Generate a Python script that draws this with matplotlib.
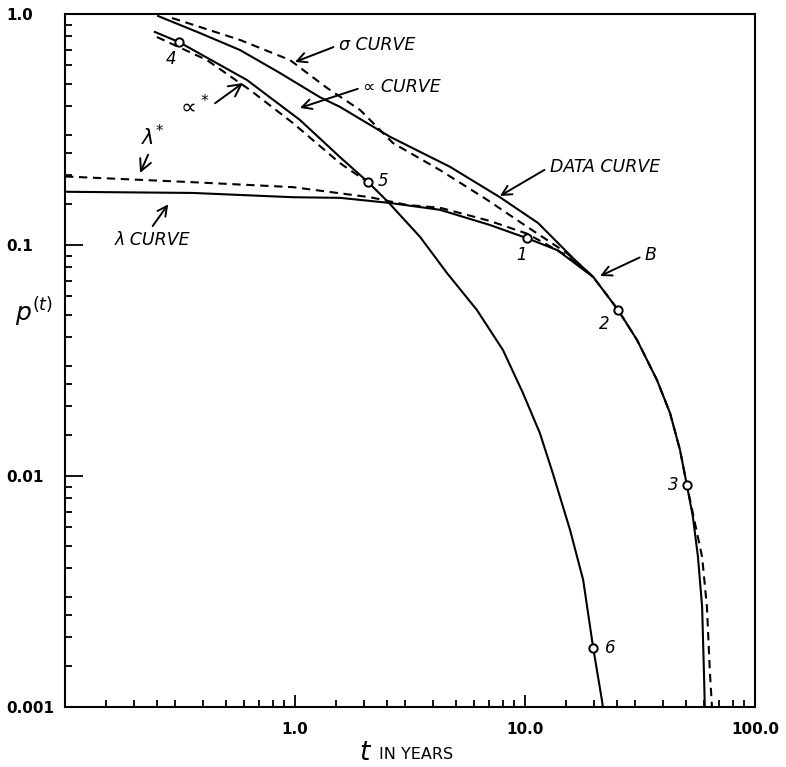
import matplotlib.pyplot as plt
from matplotlib.ticker import LogLocator, FixedLocator, FixedFormatter, NullFormatter

# curves (t in years, p(t))
data_t = [0.254, 0.386, 0.577, 0.861, 1.28, 1.57, 2.59, 3.50, 4.72, 7.78, 11.4,
          16.5, 19.8, 25.4, 30.7, 37.5, 42.7, 47.2, 50.6, 53.7, 56.5, 58.9,
          60.0, 60.5]
data_p = [0.98, 0.827, 0.698, 0.555, 0.437, 0.396, 0.294, 0.253, 0.218, 0.161,
          0.1245, 0.086, 0.0727, 0.0523, 0.0388, 0.026, 0.01874, 0.01296,
          0.0091, 0.00665, 0.00446, 0.00271, 0.0014, 0.001]

sigma_t = [0.292, 0.577, 0.951, 1.38, 1.92, 2.67, 4.27, 6.84, 10.2, 15.2, 19.8,
           25.4, 30.7, 37.5, 42.7, 47.2, 50.6, 54.8, 58.9, 61.8, 63.7, 65.0]
sigma_p = [0.961, 0.772, 0.632, 0.478, 0.384, 0.276, 0.211, 0.157, 0.120, 0.0923,
           0.0727, 0.0523, 0.0388, 0.026, 0.01874, 0.01296, 0.0091, 0.00626,
           0.00446, 0.00271, 0.0014, 0.001]

lam_t = [0.1, 0.36, 0.98, 1.57, 2.59, 4.27, 7.05, 10.2, 13.8, 19.8]
lam_p = [0.170, 0.168, 0.161, 0.160, 0.152, 0.142, 0.122, 0.107, 0.0951, 0.0727]

lamstar_t = [0.1, 0.36, 0.98, 2.12, 3.07, 4.27, 7.05, 10.2, 15.2, 19.8]
lamstar_p = [0.198, 0.187, 0.178, 0.161, 0.149, 0.145, 0.127, 0.112, 0.090, 0.0727]

alpha_t = [0.246, 0.313, 0.618, 1.05, 1.57, 2.08, 2.54, 3.50, 4.58, 6.18, 8.02,
           9.79, 11.6, 13.2, 15.7, 17.9, 19.8, 21.6, 21.8]
alpha_p = [0.836, 0.756, 0.518, 0.348, 0.240, 0.187, 0.1535, 0.1083, 0.0756,
           0.0523, 0.0351, 0.0229, 0.01535, 0.0103, 0.00584, 0.00355, 0.0018,
           0.00107, 0.001]

astar_t = [0.251, 0.414, 0.637, 0.98, 1.57, 1.92, 2.08]
astar_p = [0.795, 0.632, 0.469, 0.337, 0.226, 0.197, 0.187]

# numbered points
pt_t = [10.2, 25.4, 50.6, 0.313, 2.08, 19.8]
pt_p = [0.107, 0.0523, 0.0091, 0.756, 0.187, 0.0018]
pt_names = ['1', '2', '3', '4', '5', '6']
pt_offsets = [(-4, -12), (-10, -10), (-10, 0), (-6, -12), (11, 1), (12, 0)]

xtick_vals = [1.0, 10.0, 100.0]
xtick_labels = ['1.0', '10.0', '100.0']
ytick_vals = [0.001, 0.01, 0.1, 1.0]
ytick_labels = ['0.001', '0.01', '0.1', '1.0']
minor_subs = [1.5, 2, 2.5, 3, 4, 5, 6, 7, 8, 9]

fig = plt.figure(figsize=(7.86, 7.67), dpi=100)
ax = fig.add_axes([65 / 786, 1 - 707 / 767, 690 / 786, 693 / 767])
ax.set_xscale('log')
ax.set_yscale('log')
ax.set_xlim(0.1, 100)
ax.set_ylim(0.001, 1.0)

lw = 1.5
dash = (0, (4, 2.7))
ax.plot(data_t, data_p, color='black', lw=lw)
ax.plot(sigma_t, sigma_p, color='black', lw=lw, linestyle=dash)
ax.plot(lam_t, lam_p, color='black', lw=lw)
ax.plot(lamstar_t, lamstar_p, color='black', lw=lw, linestyle=dash)
ax.plot(alpha_t, alpha_p, color='black', lw=lw)
ax.plot(astar_t, astar_p, color='black', lw=lw, linestyle=dash)
ax.plot(pt_t, pt_p, 'o', ms=6, mfc='white', mec='black', mew=1.4, zorder=5)

num_font = dict(fontsize=12, style='italic', color='black')
for t, p, name, off in zip(pt_t, pt_p, pt_names, pt_offsets):
    ax.annotate(name, (t, p), xytext=off, textcoords='offset points',
                ha='center', va='center', **num_font)

# curve labels with arrows
lab_font = dict(fontsize=12.5, style='italic', color='black')
def arrow(rel):
    return dict(arrowstyle='->,head_length=0.55,head_width=0.28', lw=1.4,
                color='black', shrinkA=2, shrinkB=0, relpos=rel)

ax.annotate('σ CURVE', xy=(1.0, 0.62), xytext=(1.55, 0.734),
            ha='left', va='center', arrowprops=arrow((0, 0.5)), **lab_font)
ax.annotate('∝ CURVE', xy=(1.05, 0.392), xytext=(1.98, 0.483),
            ha='left', va='center', arrowprops=arrow((0, 0.5)), **lab_font)
ax.annotate(r'$\propto^{*}$', xy=(0.594, 0.503), xytext=(0.36, 0.396),
            ha='center', va='center', fontsize=16, arrowprops=arrow((1, 0.5)))
ax.annotate(r'$\lambda^{*}$', xy=(0.212, 0.205), xytext=(0.241, 0.294),
            ha='center', va='center', fontsize=15, arrowprops=arrow((0.4, 0)))
ax.annotate('λ CURVE', xy=(0.281, 0.150), xytext=(0.165, 0.105),
            ha='left', va='center', arrowprops=arrow((0.45, 1)), **lab_font)
ax.annotate('DATA CURVE', xy=(7.78, 0.163), xytext=(12.8, 0.218),
            ha='left', va='center', arrowprops=arrow((0, 0.5)), **lab_font)
ax.annotate('B', xy=(21.2, 0.0734), xytext=(33.2, 0.0905),
            ha='left', va='center', arrowprops=arrow((0, 0.5)), **lab_font)

# axes ticks
ax.xaxis.set_major_locator(FixedLocator(xtick_vals))
ax.xaxis.set_major_formatter(FixedFormatter(xtick_labels))
ax.yaxis.set_major_locator(FixedLocator(ytick_vals))
ax.yaxis.set_major_formatter(FixedFormatter(ytick_labels))
ax.xaxis.set_minor_locator(LogLocator(base=10, subs=minor_subs))
ax.yaxis.set_minor_locator(LogLocator(base=10, subs=minor_subs))
ax.xaxis.set_minor_formatter(NullFormatter())
ax.yaxis.set_minor_formatter(NullFormatter())
ax.tick_params(axis='both', which='both', direction='in', top=False, right=False,
               width=1.3, colors='black')
ax.tick_params(axis='x', which='major', length=9, pad=11)
ax.tick_params(axis='y', which='major', length=13, pad=42)
ax.tick_params(axis='both', which='minor', length=5)
for lab in ax.get_xticklabels() + ax.get_yticklabels():
    lab.set_fontweight('bold')
    lab.set_fontsize(11)
for lab in ax.get_yticklabels():
    lab.set_ha('left')
for sp in ax.spines.values():
    sp.set_linewidth(1.5)

ax.text(0.435, -0.066, '$t$', transform=ax.transAxes, fontsize=19,
        ha='center', va='center')
ax.text(0.455, -0.068, 'IN YEARS', transform=ax.transAxes, fontsize=11.5,
        ha='left', va='center')
ax.text(-0.072, 0.570, r'$p^{(t)}$', transform=ax.transAxes, fontsize=18,
        ha='left', va='center')

fig.savefig('out.png', dpi=100)
